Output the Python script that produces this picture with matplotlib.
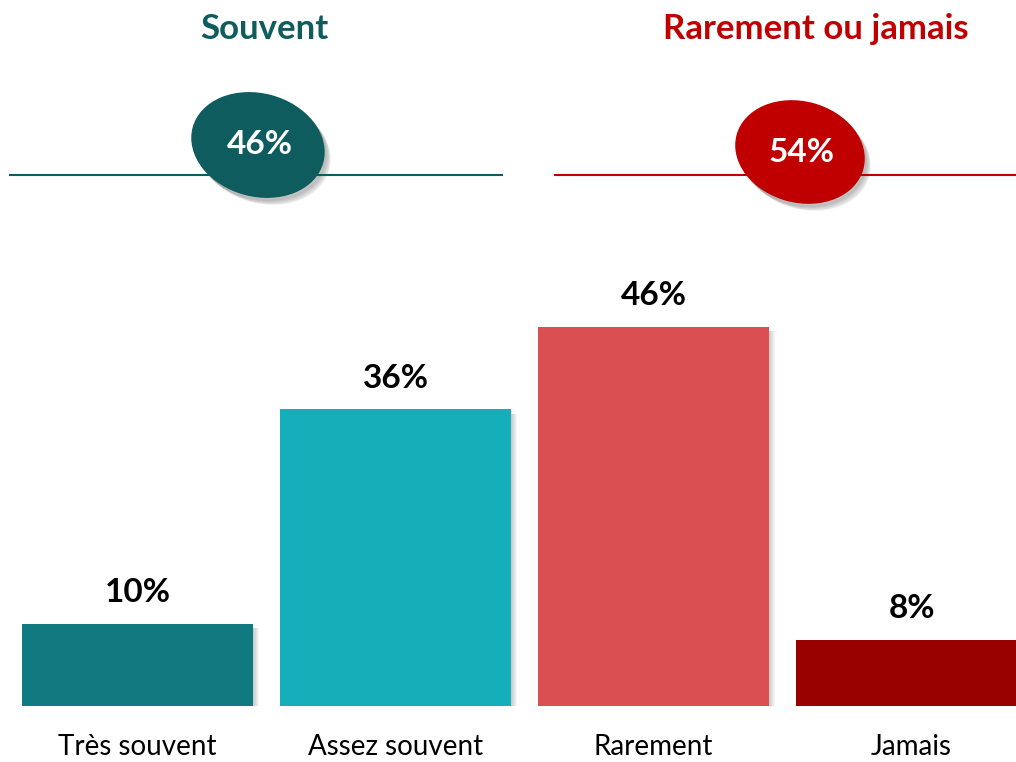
import matplotlib
matplotlib.use("Agg")
import matplotlib.pyplot as plt
from matplotlib.patches import Ellipse

plt.rcParams['font.family'] = ['Lato', 'DejaVu Sans']

# data
categories = ["Très souvent", "Assez souvent", "Rarement", "Jamais"]
values = [10, 36, 46, 8]
bar_colors = ["#117A80", "#14AFB8", "#D94F52", "#990000"]
groups = ["Souvent", "Rarement ou jamais"]
group_totals = [46, 54]
group_colors = ["#0E5C5E", "#C00000"]

fig = plt.figure(figsize=(10.16, 7.62), dpi=100)

# main bar axes (pixel layout: baseline at y=706, bars 231px wide every 258px)
ax = fig.add_axes([0, 56/762, 1, 460/762])
x = list(range(len(categories)))
ax.set_xlim(-137.5/258, (1016-137.5)/258)
ax.set_ylim(0, 460/8.25)
w = 231/258
# soft shadows
for k in range(6):
    off = 0.004 + k*0.004
    ax.bar([i + off for i in x], [v - 0.15 for v in values], width=w, bottom=-0.4,
           color="black", alpha=0.035, zorder=1)
ax.bar(x, values, width=w, color=bar_colors, zorder=2)
for i, v in enumerate(values):
    ax.text(i, v + 2.0, f"{v}%", ha="center", va="bottom", fontsize=24,
            fontweight="bold", color="black")
ax.set_xticks(x)
ax.set_xticklabels(categories, fontsize=20)
ax.tick_params(axis="x", length=0, pad=20)
ax.set_yticks([])
for s in ax.spines.values():
    s.set_visible(False)

# overlay in pixel coordinates for the header
ov = fig.add_axes([0, 0, 1, 1], zorder=3)
ov.set_xlim(0, 1016)
ov.set_ylim(762, 0)
ov.axis("off")
ov.patch.set_alpha(0)

line_spans = [(10, 502), (555, 1016)]
title_x = [264, 816]
ell = [(258, 145, 134, 102, 15), (800, 152, 130, 100, 15)]
for g in range(2):
    c = group_colors[g]
    ov.text(title_x[g], 29, groups[g], ha="center", va="center", fontsize=25,
            fontweight="bold", color=c)
    ov.plot(line_spans[g], [175, 175], color=c, lw=1.5)
    cx, cy, ew, eh, ang = ell[g]
    for k in range(5):
        ov.add_patch(Ellipse((cx + 2 + k, cy + 3 + k), ew, eh, angle=ang,
                             color="black", alpha=0.05))
    ov.add_patch(Ellipse((cx, cy), ew, eh, angle=ang, color=c))
    ov.text(cx + 2, cy, f"{group_totals[g]}%", ha="center", va="center",
            fontsize=24, fontweight="bold", color="white")

fig.savefig("out.png", dpi=100)
